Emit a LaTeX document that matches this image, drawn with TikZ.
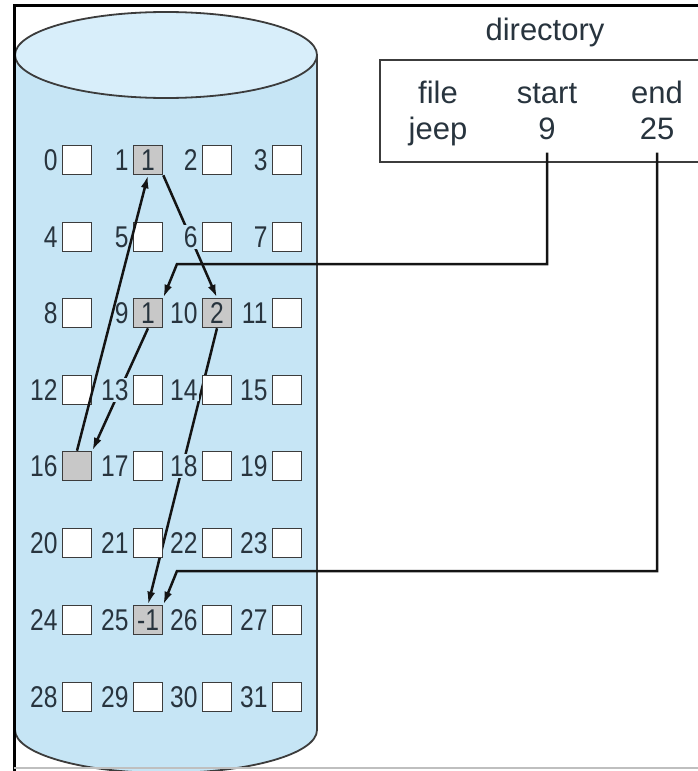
\documentclass[tikz,border=0pt]{standalone}
\usepackage{fontspec}
\setmainfont{Liberation Sans}
\newfontfamily\gridfont[FakeStretch=0.82]{Liberation Sans}
\usetikzlibrary{arrows.meta,backgrounds}

\definecolor{disk}{RGB}{198,229,245}
\definecolor{disktop}{RGB}{216,238,250}
\definecolor{usedgray}{RGB}{200,200,200}
\definecolor{edgegray}{RGB}{60,60,60}
\definecolor{numcol}{RGB}{40,52,62}
\definecolor{ink}{RGB}{20,20,20}

\begin{document}
\begin{tikzpicture}
[x=1pt, y=-1pt, every node/.style={inner sep=0pt},
 blk/.style={rectangle, minimum size=29pt, fill=white, draw=edgegray, line width=1.6pt, font=\gridfont\fontsize{30}{30}\selectfont, text=numcol},
 used/.style={blk, fill=usedgray},
 num/.style={font=\gridfont\fontsize{30}{30}\selectfont, text=numcol, fill=disk, inner sep=1pt},
 lbl/.style={label={[num, label distance=3pt]left:#1}},
 hdr/.style={anchor=base, font=\fontsize{31}{31}\selectfont, text=numcol},
 chain/.style={line width=2.5pt, draw=ink, -{Latex[length=13pt,width=8pt]}}]
\useasboundingbox (0,0) rectangle (698,771);

% disk blocks, four per track
\node (b0) [blk, lbl=0] at (77,160) {};
\node (b1) [used, lbl=1] at (148,160) {1};
\node (b2) [blk, lbl=2] at (217,160) {};
\node (b3) [blk, lbl=3] at (287,160) {};
\node (b4) [blk, lbl=4] at (77,237) {};
\node (b5) [blk, lbl=5] at (148,237) {};
\node (b6) [blk, lbl=6] at (217,237) {};
\node (b7) [blk, lbl=7] at (287,237) {};
\node (b8) [blk, lbl=8] at (77,313) {};
\node (b9) [used, lbl=9] at (148,313) {1};
\node (b10) [used, lbl=10] at (217,313) {2};
\node (b11) [blk, lbl=11] at (287,313) {};
\node (b12) [blk, lbl=12] at (77,390) {};
\node (b13) [blk, lbl=13] at (148,390) {};
\node (b14) [blk, lbl=14] at (217,390) {};
\node (b15) [blk, lbl=15] at (287,390) {};
\node (b16) [used, lbl=16] at (77,466) {};
\node (b17) [blk, lbl=17] at (148,466) {};
\node (b18) [blk, lbl=18] at (217,466) {};
\node (b19) [blk, lbl=19] at (287,466) {};
\node (b20) [blk, lbl=20] at (77,543) {};
\node (b21) [blk, lbl=21] at (148,543) {};
\node (b22) [blk, lbl=22] at (217,543) {};
\node (b23) [blk, lbl=23] at (287,543) {};
\node (b24) [blk, lbl=24] at (77,620) {};
\node (b25) [used, lbl=25] at (148,620) {-1};
\node (b26) [blk, lbl=26] at (217,620) {};
\node (b27) [blk, lbl=27] at (287,620) {};
\node (b28) [blk, lbl=28] at (77,697) {};
\node (b29) [blk, lbl=29] at (148,697) {};
\node (b30) [blk, lbl=30] at (217,697) {};
\node (b31) [blk, lbl=31] at (287,697) {};

% directory entry
\node (dirname) [hdr] at (545,40) {directory};
\node (hfile) [hdr] at (438,103) {file};
\node (hstart) [hdr] at (547,103) {start};
\node (hend) [hdr] at (657,103) {end};
\node (vfile) [hdr] at (438,139) {jeep};
\node (vstart) [hdr] at (547,139) {9};
\node (vend) [hdr] at (657,139) {25};
\draw [edgegray, line width=2.8pt] (700,60) -- (380,60) -- (380,162) -- (700,162);

% pointers from the directory
\coordinate (c9) at (177,264);
\coordinate (c25) at (177,571);
\draw [chain, shorten <=13pt] (vstart.south) |- (c9) -- (b9.north east);
\draw [chain, shorten <=13pt] (vend.south) |- (c25) -- (b25.north east);

\begin{scope}[on background layer]
\fill [white] (0,0) rectangle (698,771);
% the disk
\fill [disk] (15,55) -- (15,730) arc [start angle=180, end angle=0, x radius=151, y radius=43] -- (317,55) -- cycle;
\draw [edgegray, line width=1.8pt] (15,730) arc [start angle=180, end angle=0, x radius=151, y radius=43] -- (317,55);
\draw [edgegray, line width=1.8pt, fill=disktop] (166,55) ellipse [x radius=151, y radius=43];
% links hidden behind the block numbers
\draw [chain] (b1.south east) -- (b10.north);
\draw [chain] (b9.south) -- (b16.north east);
\draw [chain] (b10.south) -- (b25.north);
\end{scope}
\draw [chain] (b16.north) -- (b1.south);

% frame
\draw [black, line width=3pt] (14,771) -- (14,5) -- (698,5);
\draw [lightgray, line width=1.5pt] (14,768) -- (698,768);
\end{tikzpicture}
\end{document}
